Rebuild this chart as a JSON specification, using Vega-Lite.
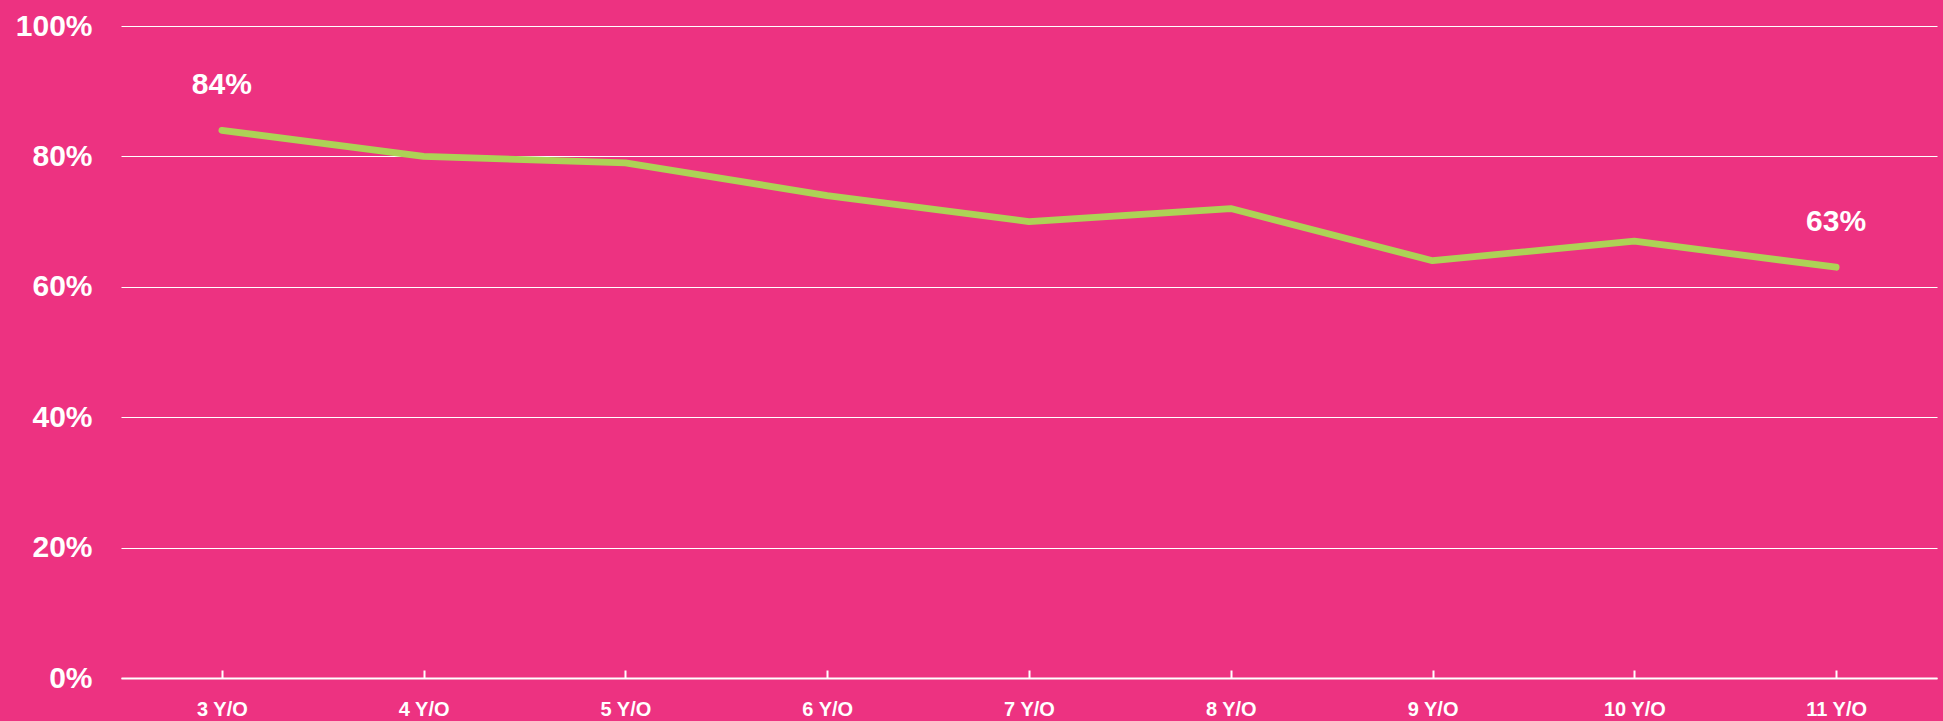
{
  "$schema": "https://vega.github.io/schema/vega-lite/v6.json",
  "width": 1816,
  "height": 652,
  "autosize": {"type": "none"},
  "padding": {"left": 121, "top": 26, "right": 6, "bottom": 43},
  "background": "#ED3281",
  "config": {
    "view": {"stroke": null},
    "font": "Liberation Sans"
  },
  "data": {
    "values": [
      {"age": "3 Y/O", "share": 0.84},
      {"age": "4 Y/O", "share": 0.80},
      {"age": "5 Y/O", "share": 0.79},
      {"age": "6 Y/O", "share": 0.74},
      {"age": "7 Y/O", "share": 0.70},
      {"age": "8 Y/O", "share": 0.72},
      {"age": "9 Y/O", "share": 0.64},
      {"age": "10 Y/O", "share": 0.67},
      {"age": "11 Y/O", "share": 0.63}
    ]
  },
  "encoding": {
    "x": {
      "field": "age",
      "type": "ordinal",
      "sort": null,
      "scale": {"type": "point", "padding": 0.5},
      "axis": {
        "title": null,
        "labelAngle": 0,
        "labelColor": "white",
        "labelFont": "Liberation Sans",
        "labelFontWeight": "bold",
        "labelFontSize": 20,
        "labelPadding": 29,
        "domainColor": "white",
        "domainWidth": 2.2,
        "tickColor": "white",
        "tickWidth": 2,
        "tickSize": -8,
        "grid": false
      }
    },
    "y": {
      "field": "share",
      "type": "quantitative",
      "scale": {"domain": [0, 1], "nice": false, "zero": true},
      "axis": {
        "title": null,
        "values": [0, 0.2, 0.4, 0.6, 0.8, 1],
        "format": ".0%",
        "labelColor": "white",
        "labelFont": "Liberation Sans",
        "labelFontWeight": "bold",
        "labelFontSize": 30,
        "labelPadding": 29,
        "ticks": false,
        "domain": false,
        "grid": true,
        "gridColor": "white",
        "gridWidth": 1.2
      }
    }
  },
  "layer": [
    {
      "mark": {"type": "line", "color": "#ADD256", "strokeWidth": 6.8, "strokeCap": "round", "strokeJoin": "round"}
    },
    {
      "transform": [{"filter": "datum.age == '3 Y/O' || datum.age == '11 Y/O'"}],
      "mark": {"type": "text", "color": "white", "font": "Liberation Sans", "fontWeight": "bold", "fontSize": 30, "baseline": "middle", "align": "center", "dy": -45},
      "encoding": {
        "text": {"field": "share", "type": "quantitative", "format": ".0%"}
      }
    }
  ]
}
